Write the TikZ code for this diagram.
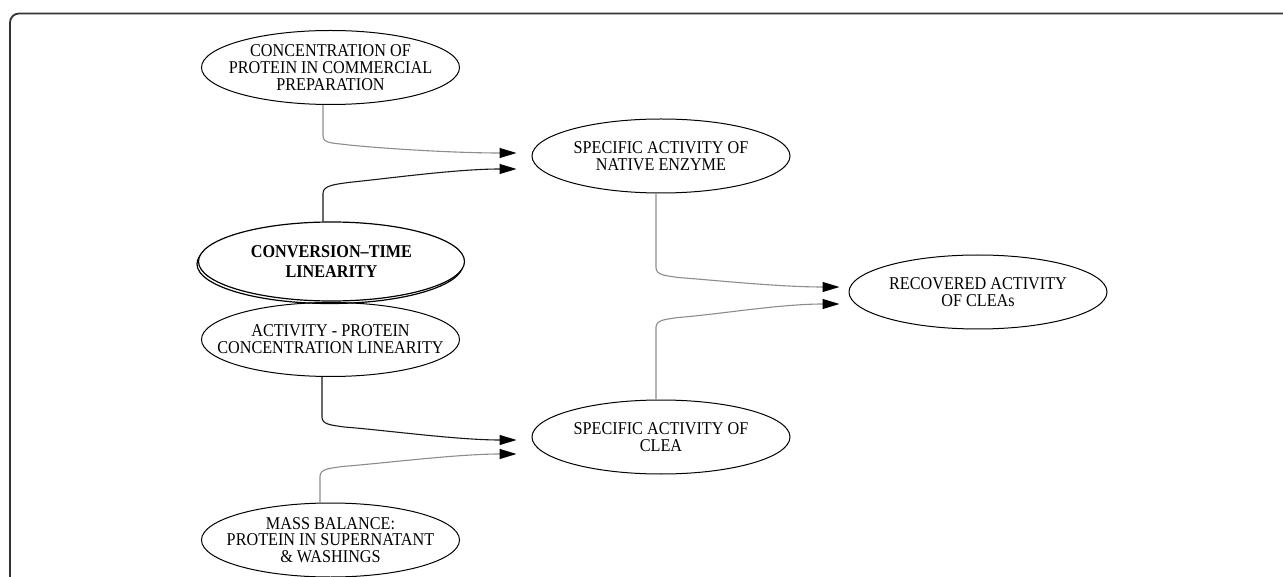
\documentclass[tikz,border=0pt]{standalone}
\usepackage{fontspec}
\setmainfont{Liberation Serif}[FakeStretch=0.9]
\usetikzlibrary{arrows.meta,shapes.geometric,shadows}
\begin{document}
\begin{tikzpicture}[x=1pt,y=-1pt,
  ell/.style={ellipse, draw=black, line width=1pt, minimum width=258pt, minimum height=74pt,
    inner xsep=-120pt, inner ysep=-60pt, align=center, font=\fontsize{18}{16.8}\selectfont},
  boldell/.style={ell, minimum width=266pt, minimum height=79pt, line width=1.2pt, fill=white,
    font=\fontsize{18}{20}\selectfont\bfseries,
    general shadow={draw=black, fill=none, line width=1.2pt, shadow xshift=-1.5pt, shadow yshift=-2.5pt}},
  tip/.style={-{Triangle[length=17pt,width=10pt,color=black]}},
  greyedge/.style={tip, draw=black!45, line width=1.1pt},
  blackedge/.style={tip, draw=black!90, line width=1.1pt}]
\useasboundingbox (0,0) rectangle (1283,577);
\draw[line width=1.8pt, draw=black!80, rounded corners=9pt] (10,590) |- (1295,13.5);

\node[ell] (conc) at (330.5,67.5) {CONCENTRATION OF\\PROTEIN IN COMMERCIAL\\PREPARATION};
\node[ell] (native) at (661,156) {SPECIFIC ACTIVITY OF\\NATIVE ENZYME};
\node[boldell] (conv) at (331.5,261.5) {CONVERSION–TIME\\LINEARITY};
\node[ell] (act) at (330.5,339.5) {ACTIVITY - PROTEIN\\CONCENTRATION LINEARITY};
\node[ell] (clea) at (661,437) {SPECIFIC ACTIVITY OF\\CLEA};
\node[ell] (mass) at (330.5,540) {MASS BALANCE:\\PROTEIN IN SUPERNATANT\\\& WASHINGS};
\node[ell] (rec) at (978,292) {RECOVERED ACTIVITY\\OF CLEAs};

\draw[greyedge] ([xshift=-7.5pt]conc.south) -- ++(0,31) .. controls +(0,8) and +(-14,-2) .. ++(26,9)
  .. controls +(40,4) and +(-60,0) .. ([xshift=-15pt,yshift=3pt]native.west);
\draw[blackedge] ([xshift=-8.5pt]conv.north) -- ++(0,-28) .. controls +(0,-8) and +(-14,2) .. ++(26,-11)
  .. controls +(40,-4) and +(-60,0) .. ([xshift=-15pt,yshift=-13pt]native.west);
\draw[greyedge] ([xshift=-5pt]native.south) -- ++(0,74) .. controls +(0,8) and +(-12,-2) .. ++(22,10)
  .. controls +(40,3) and +(-60,0) .. ([xshift=-9pt,yshift=5pt]rec.west);
\draw[greyedge] ([xshift=-5pt]clea.north) -- ++(0,-72) .. controls +(0,-8) and +(-12,2) .. ++(22,-10)
  .. controls +(40,-3) and +(-60,0) .. ([xshift=-9pt,yshift=-12pt]rec.west);
\draw[blackedge] ([xshift=-8.5pt]act.south) -- ++(0,40) .. controls +(0,8) and +(-12,-2) .. ++(22,10)
  .. controls +(40,3) and +(-60,0) .. ([xshift=-15pt,yshift=-3pt]clea.west);
\draw[greyedge] ([xshift=-10.5pt]mass.north) -- ++(0,-26) .. controls +(0,-8) and +(-12,2) .. ++(22,-10)
  .. controls +(40,-3) and +(-60,0) .. ([xshift=-15pt,yshift=-17pt]clea.west);
\end{tikzpicture}
\end{document}
